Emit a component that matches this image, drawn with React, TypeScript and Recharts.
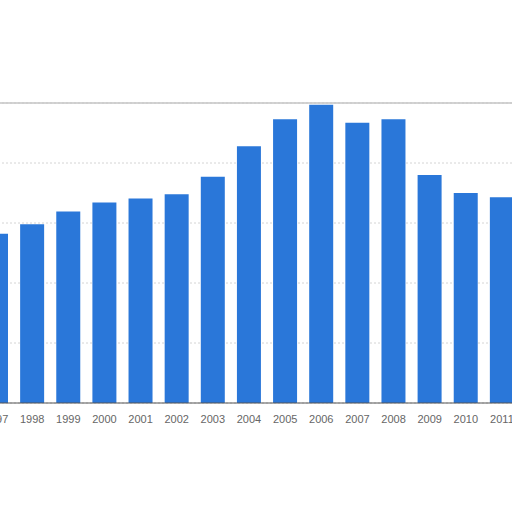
import React from 'react';
import { BarChart, Bar, XAxis, YAxis, CartesianGrid, ReferenceLine } from 'recharts';

const years = ['1997', '1998', '1999', '2000', '2001', '2002', '2003', '2004', '2005', '2006', '2007', '2008', '2009', '2010', '2011'];
const values = [282, 298, 319, 334, 341, 348, 377, 428, 473, 497, 467, 473, 380, 350, 343];
const yTicks = [0, 100, 200, 300, 400, 500];

const data = years.map((year, i) => ({ year, value: values[i] }));

export default function App() {
  return (
    <div style={{ position: 'absolute', left: 0, top: 0, width: 512, height: 512, overflow: 'hidden', background: '#fff' }}>
      <BarChart
        width={542}
        height={512}
        data={data}
        margin={{ top: 103, right: 0, bottom: 79, left: 0 }}
        barSize={24}
        style={{ position: 'absolute', left: -22, top: 0 }}
      >
        <CartesianGrid vertical={false} stroke="#d4d4d4" strokeDasharray="2 2" />
        <ReferenceLine y={500} stroke="#c4c4c4" strokeWidth={1.5} />
        <YAxis hide domain={[0, 500]} ticks={yTicks} />
        <XAxis
          dataKey="year"
          tickLine={false}
          axisLine={{ stroke: '#555' }}
          tickMargin={6}
          interval={0}
          height={30}
          tick={{ fill: '#666', fontSize: 11, fontFamily: 'Liberation Sans, Arial, sans-serif' }}
        />
        <Bar dataKey="value" fill="#2a77d9" isAnimationActive={false} />
      </BarChart>
    </div>
  );
}
